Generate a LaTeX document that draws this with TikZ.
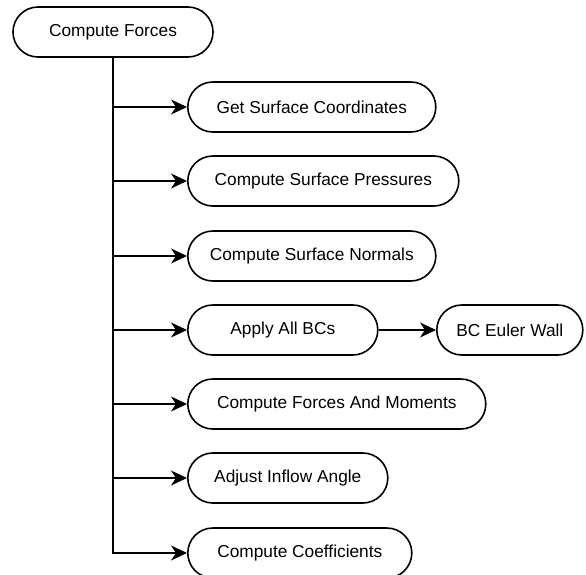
\documentclass[tikz,border=0pt]{standalone}
\usepackage{fontspec}
\setmainfont{Liberation Sans}
\usetikzlibrary{arrows.meta,shapes.misc}
\begin{document}
\begin{tikzpicture}[x=1pt,y=-1pt,
  task/.style={draw, line width=1.6pt, rounded rectangle, minimum height=50pt,
    inner sep=0pt, anchor=west, font=\fontsize{17.3}{20}\selectfont},
  link/.style={line width=1.6pt, -{Stealth[length=16pt,width=15pt,inset=5pt]}}]
  \useasboundingbox (0,0) rectangle (586,574);
  \node[task, minimum width=200pt, anchor=center] (forces) at (113,32) {Compute Forces};
  \node[task, minimum width=248pt] (coords) at (187,107) {Get Surface Coordinates};
  \node[task, minimum width=271pt] (press) at (187,181) {Compute Surface Pressures};
  \node[task, minimum width=248pt] (normals) at (187,256) {Compute Surface Normals};
  \node[task, minimum width=190pt] (bcs) at (187,330) {Apply All BCs};
  \node[task, minimum width=146pt] (wall) at (436,330) {BC Euler Wall};
  \node[task, minimum width=298pt] (moments) at (187,404) {Compute Forces And Moments};
  \node[task, minimum width=200pt] (inflow) at (187,478) {Adjust Inflow Angle};
  \node[task, minimum width=224pt] (coeffs) at (187,553) {Compute Coefficients};
  % trunk and branches
  \draw[link] (forces.south) |- (coeffs.west);
  \foreach \n in {coords,press,normals,bcs,moments,inflow}
    \draw[link] (forces.south |- \n.west) -- (\n.west);
  \draw[link] (bcs.east) -- (wall.west);
\end{tikzpicture}
\end{document}
